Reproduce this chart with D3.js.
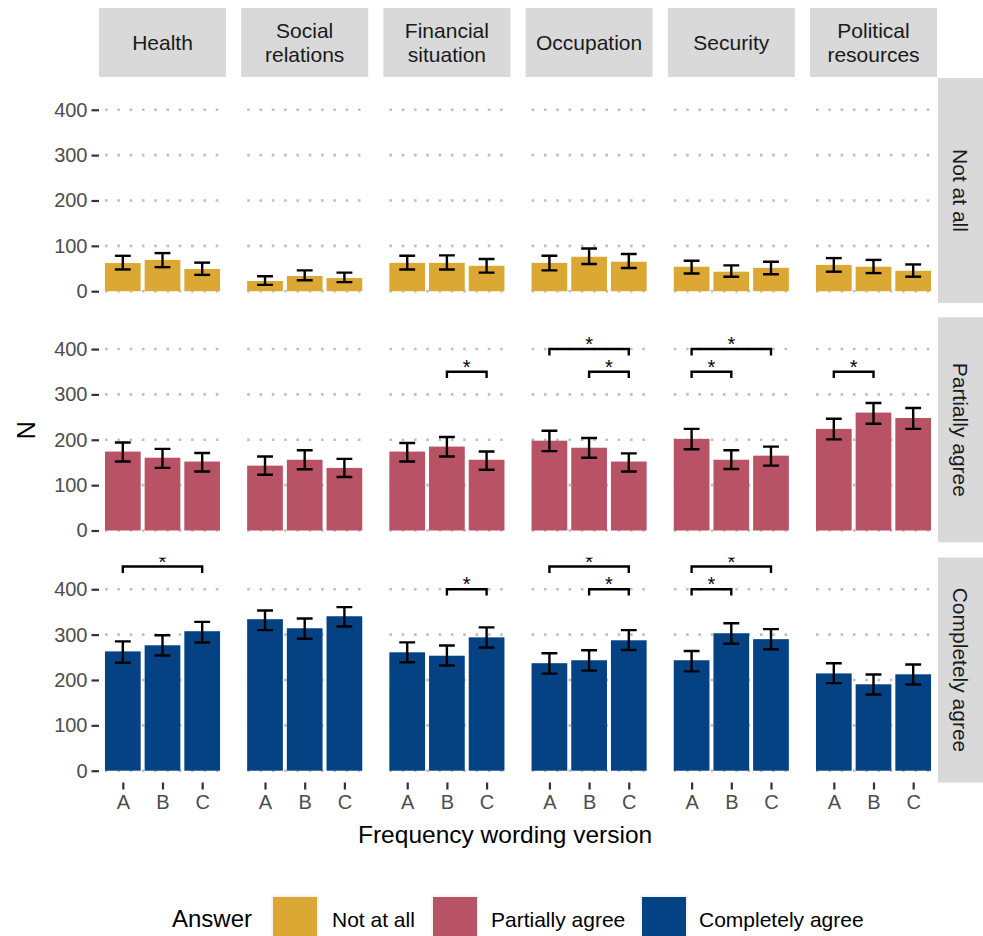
<!DOCTYPE html>
<html>
<head>
<meta charset="utf-8">
<script src="https://cdn.jsdelivr.net/npm/d3@7"></script>
<style>
  html, body { margin: 0; padding: 0; background: #ffffff; }
  svg { display: block; font-family: "Liberation Sans", Arial, Helvetica, sans-serif; }
</style>
</head>
<body>
<script>
// ---------------- DATA ----------------
const categories = ["Health", "Social relations", "Financial situation", "Occupation", "Security", "Political resources"];
const answers = ["Not at all", "Partially agree", "Completely agree"];
const versions = ["A", "B", "C"];
const yTicks = [0, 100, 200, 300, 400];

// N per category (rows) x version (A,B,C)
const notAtAll     = [[62, 69, 49], [22.5, 33.5, 29], [62.5, 62.5, 56], [62.5, 76, 65], [54, 43, 51.5], [58, 54, 45]];
const notAtAllLow  = [[48, 53, 36], [14, 24, 20], [48, 48, 41], [46, 60, 51], [39, 32, 37.5], [43, 40, 32]];
const notAtAllHigh = [[78, 84, 63], [33, 46, 41], [78, 79, 71], [78, 94, 82], [67, 57, 65], [73, 69, 59]];

const partially     = [[174, 160.5, 152], [143, 156, 138], [174, 185, 156], [198, 182.5, 152], [202, 156, 165], [224, 260, 248]];
const partiallyLow  = [[152, 138, 130], [123, 135, 118], [152, 163, 134], [175, 160.5, 130], [179, 135.5, 143], [201, 235.5, 224]];
const partiallyHigh = [[194, 180, 171], [163, 177, 158], [193, 206, 174], [220, 204, 170], [224, 177, 185], [246.5, 281, 270]];

const completely     = [[263, 276.5, 307.5], [334, 314, 340.5], [261, 253.5, 294], [237, 243.5, 287.5], [243.5, 303, 290], [214.5, 190.5, 212.5]];
const completelyLow  = [[238, 254, 282.5], [310, 291, 318], [239, 232, 271.5], [214, 220.7, 266], [219, 280, 267.7], [193, 168, 190]];
const completelyHigh = [[285, 298.5, 328], [353, 335.5, 360.5], [283, 276, 316], [259, 265.5, 310], [264, 325, 312], [236.8, 212, 234]];

// significance brackets: [category, answer, from, to, level, label]
const sigBrackets = [
  ["Financial situation", "Partially agree", "B", "C", 350, "*"],
  ["Occupation", "Partially agree", "A", "C", 400, "*"],
  ["Occupation", "Partially agree", "B", "C", 350, "*"],
  ["Security", "Partially agree", "A", "C", 400, "*"],
  ["Security", "Partially agree", "A", "B", 350, "*"],
  ["Political resources", "Partially agree", "A", "B", 350, "*"],
  ["Health", "Completely agree", "A", "C", 450, "*"],
  ["Financial situation", "Completely agree", "B", "C", 400, "*"],
  ["Occupation", "Completely agree", "A", "C", 450, "*"],
  ["Occupation", "Completely agree", "B", "C", 400, "*"],
  ["Security", "Completely agree", "A", "C", 450, "*"],
  ["Security", "Completely agree", "A", "B", 400, "*"]
];

const seriesValues = [notAtAll, partially, completely];
const seriesLow = [notAtAllLow, partiallyLow, completelyLow];
const seriesHigh = [notAtAllHigh, partiallyHigh, completelyHigh];

// ---------------- STYLE / LAYOUT ----------------
const colors = ["#DCA834", "#B85265", "#044284"];
const W = 983, H = 936;
const panelX0 = 99, panelW = 127, gapX = 15.2;
const rowTop = [78, 317.3, 557.5], panelH = 225;
const stripTop = 8, stripH = 69;
const rightStripX = 938, rightStripW = 45;
const tipLen = 14;

const svg = d3.select("body").append("svg").attr("width", W).attr("height", H);
svg.append("rect").attr("width", W).attr("height", H).attr("fill", "#ffffff");

const y = d3.scaleLinear().domain([-26, 470]).range([panelH, 0]);
const xPos = d3.scaleLinear().domain([0.4, 3.6]).range([0, panelW]);
const vIndex = d3.scaleOrdinal().domain(versions).range([1, 2, 3]);
const unit = xPos(2) - xPos(1);
const panelLeft = c => panelX0 + c * (panelW + gapX);

const defs = svg.append("defs");
defs.append("clipPath").attr("id", "panelClip")
  .append("rect").attr("x", 0).attr("y", 0).attr("width", panelW).attr("height", panelH);

answers.forEach((ans, r) => {
  categories.forEach((cat, c) => {
    const g = svg.append("g").attr("transform", `translate(${panelLeft(c)},${rowTop[r]})`);
    const inner = g.append("g").attr("clip-path", "url(#panelClip)");

    // grid
    inner.selectAll("line.grid").data(yTicks).join("line")
      .attr("x1", 0).attr("x2", panelW)
      .attr("y1", d => y(d)).attr("y2", d => y(d))
      .attr("stroke", "#bfbfbf").attr("stroke-width", 2.6)
      .attr("stroke-dasharray", "2.6 9.7").attr("stroke-dashoffset", -6);

    const vals = seriesValues[r][c], lo = seriesLow[r][c], hi = seriesHigh[r][c];
    const data = versions.map((v, i) => ({ v, n: vals[i], lo: lo[i], hi: hi[i] }));

    // bars
    inner.selectAll("rect.bar").data(data).join("rect")
      .attr("x", d => xPos(vIndex(d.v)) - 0.45 * unit)
      .attr("width", 0.9 * unit)
      .attr("y", d => y(d.n))
      .attr("height", d => y(0) - y(d.n))
      .attr("fill", colors[r]);

    // error bars
    const eb = inner.selectAll("g.eb").data(data).join("g");
    eb.append("line")
      .attr("x1", d => xPos(vIndex(d.v))).attr("x2", d => xPos(vIndex(d.v)))
      .attr("y1", d => y(d.lo)).attr("y2", d => y(d.hi))
      .attr("stroke", "#000").attr("stroke-width", 2.4);
    ["lo", "hi"].forEach(k => {
      eb.append("line")
        .attr("x1", d => xPos(vIndex(d.v)) - 0.2 * unit).attr("x2", d => xPos(vIndex(d.v)) + 0.2 * unit)
        .attr("y1", d => y(d[k])).attr("y2", d => y(d[k]))
        .attr("stroke", "#000").attr("stroke-width", 2.4);
    });

    // significance brackets
    const br = sigBrackets.filter(b => b[0] === cat && b[1] === ans);
    br.forEach(b => {
      const x1 = xPos(vIndex(b[2])), x2 = xPos(vIndex(b[3]));
      inner.append("path")
        .attr("d", `M${x1},${y(b[4] - tipLen)}V${y(b[4])}H${x2}V${y(b[4] - tipLen)}`)
        .attr("fill", "none").attr("stroke", "#000").attr("stroke-width", 2.4)
        .attr("stroke-linejoin", "miter");
      inner.append("text")
        .attr("x", (x1 + x2) / 2).attr("y", y(b[4]) + 2)
        .attr("text-anchor", "middle").attr("font-size", 20).attr("fill", "#000")
        .text(b[5]);
    });

    // y axis on first column
    if (c === 0) {
      const ax = g.append("g").call(d3.axisLeft(y).tickValues(yTicks).tickSize(7.5).tickPadding(4));
      ax.select(".domain").remove();
      ax.selectAll(".tick line").attr("stroke", "#333333").attr("stroke-width", 2.2);
      ax.selectAll(".tick text").attr("fill", "#4d4d4d").attr("font-size", 20)
        .attr("font-family", "Liberation Sans, Arial, sans-serif");
    }
    // x axis on last row
    if (r === answers.length - 1) {
      const xb = d3.scaleOrdinal().domain(versions).range(versions.map(v => xPos(vIndex(v))));
      const ax = g.append("g").attr("transform", `translate(0,${panelH})`)
        .call(d3.axisBottom(xb).tickSize(7).tickPadding(5));
      ax.select(".domain").remove();
      ax.selectAll(".tick line").attr("stroke", "#333333").attr("stroke-width", 2.2);
      ax.selectAll(".tick text").attr("fill", "#4d4d4d").attr("font-size", 20)
        .attr("font-family", "Liberation Sans, Arial, sans-serif");
    }
  });
});

// top strips
categories.forEach((cat, c) => {
  const g = svg.append("g").attr("transform", `translate(${panelLeft(c)},${stripTop})`);
  g.append("rect").attr("width", panelW).attr("height", stripH).attr("fill", "#d9d9d9");
  const lines = cat.split(" ");
  const lh = 23.4;
  const base = stripH / 2 + 7.5 - (lines.length - 1) * lh / 2;
  lines.forEach((ln, i) => {
    g.append("text").attr("x", panelW / 2).attr("y", base + i * lh)
      .attr("text-anchor", "middle").attr("font-size", 21).attr("fill", "#1a1a1a").text(ln);
  });
});

// right strips
answers.forEach((ans, r) => {
  const g = svg.append("g").attr("transform", `translate(${rightStripX},${rowTop[r]})`);
  g.append("rect").attr("width", rightStripW).attr("height", panelH).attr("fill", "#d9d9d9");
  g.append("text")
    .attr("transform", `translate(${rightStripW / 2 - 7.5},${panelH / 2}) rotate(90)`)
    .attr("text-anchor", "middle").attr("font-size", 21).attr("fill", "#1a1a1a").text(ans);
});

// axis titles
svg.append("text").attr("x", 358).attr("y", 843)
  .attr("font-size", 24.5).attr("fill", "#000").text("Frequency wording version");
svg.append("text").attr("transform", `translate(35,${(rowTop[0] + rowTop[2] + panelH) / 2}) rotate(-90)`)
  .attr("text-anchor", "middle").attr("font-size", 25).attr("fill", "#000").text("N");

// legend
const legendKeysX = [273, 433, 642];
const legendLabelX = [332, 491, 699];
const legY = 897, keyW = 44, keyH = 44;
svg.append("text").attr("x", 172).attr("y", 927).attr("font-size", 24).attr("fill", "#000").text("Answer");
answers.forEach((ans, i) => {
  svg.append("rect").attr("x", legendKeysX[i] - 1.5).attr("y", legY - 1.5)
    .attr("width", keyW + 3).attr("height", keyH + 3).attr("fill", "#f2f2f2");
  svg.append("rect").attr("x", legendKeysX[i]).attr("y", legY)
    .attr("width", keyW).attr("height", keyH).attr("fill", colors[i]);
  svg.append("text").attr("x", legendLabelX[i]).attr("y", 927)
    .attr("font-size", 21).attr("fill", "#000").text(ans);
});
</script>
</body>
</html>
